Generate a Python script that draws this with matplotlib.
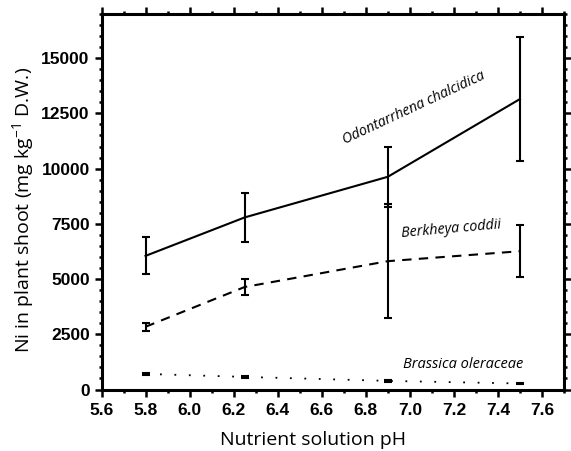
import matplotlib
matplotlib.use("Agg")
import matplotlib.pyplot as plt
from matplotlib.ticker import MultipleLocator

plt.rcParams["mathtext.fontset"] = "custom"
plt.rcParams["mathtext.rm"] = "Open Sans"
plt.rcParams["mathtext.it"] = "Open Sans:italic"
plt.rcParams["mathtext.bf"] = "Open Sans:bold"

ph = [5.8, 6.25, 6.9, 7.5]
odon_mean = [6050, 7790, 9630, 13150]
odon_err = [840, 1110, 1360, 2810]
berk_mean = [2840, 4640, 5810, 6260]
berk_err = [180, 355, 2570, 1180]
bras_mean = [706, 570, 390, 272]
bras_err = [40, 40, 40, 40]

xticks = [5.6, 5.8, 6.0, 6.2, 6.4, 6.6, 6.8, 7.0, 7.2, 7.4, 7.6]
yticks = [0, 2500, 5000, 7500, 10000, 12500, 15000]

fig = plt.figure(figsize=(5.71, 4.51), dpi=100)
ax = fig.add_axes([101.5/571, 1-389.5/451, (564-101.5)/571, (389.5-14)/451])

lab_font = "Open Sans"
ebkw = dict(color="black", elinewidth=1.5, capsize=2.8, capthick=1.5)

ax.errorbar(ph, odon_mean, yerr=odon_err, linestyle="-", lw=1.5, **ebkw)
ax.errorbar(ph, berk_mean, yerr=berk_err, linestyle=(0, (4.5, 3.5)), lw=1.5, **ebkw)
ax.errorbar(ph, bras_mean, yerr=bras_err, linestyle=(0, (1, 7)), lw=1.3, **ebkw)

ax.set_xlim(5.6, 7.7)
ax.set_ylim(0, 17000)
ax.set_xticks(xticks)
ax.set_xticklabels([f"{v:.1f}" for v in xticks])
ax.set_yticks(yticks)
ax.set_yticklabels([str(v) for v in yticks])
ax.xaxis.set_minor_locator(MultipleLocator(0.1))
ax.yaxis.set_minor_locator(MultipleLocator(500))

for s in ax.spines.values():
    s.set_linewidth(2.2)
ax.tick_params(which="both", direction="out", top=True, right=True, width=1.8)
ax.tick_params(which="major", length=5)
ax.tick_params(which="minor", length=2.5)
ax.tick_params(axis="x", which="major", pad=5)
for t in ax.get_xticklabels() + ax.get_yticklabels():
    t.set_fontfamily("Liberation Sans")
    t.set_fontweight("bold")
    t.set_fontsize(12.5)

ax.set_xlabel("Nutrient solution pH", fontfamily=lab_font, fontsize=14, labelpad=9)
ax.set_ylabel("Ni in plant shoot (mg kg$^{-1}$ D.W.)", fontfamily=lab_font, fontsize=14, labelpad=4)
ax.xaxis.label.set_x(0.457)
ax.yaxis.label.set_y(0.478)

ax.text(7.02, 12750, "Odontarrhena chalcidica", fontfamily=lab_font, style="italic",
        fontsize=10.2, rotation=25, ha="center", va="center")
ax.text(7.19, 7250, "Berkheya coddii", fontfamily=lab_font, style="italic",
        fontsize=10.3, rotation=5, ha="center", va="center")
ax.text(7.24, 1150, "Brassica oleraceae", fontfamily=lab_font, style="italic",
        fontsize=10.5, rotation=0, ha="center", va="center")

fig.savefig("out.png", dpi=100)
